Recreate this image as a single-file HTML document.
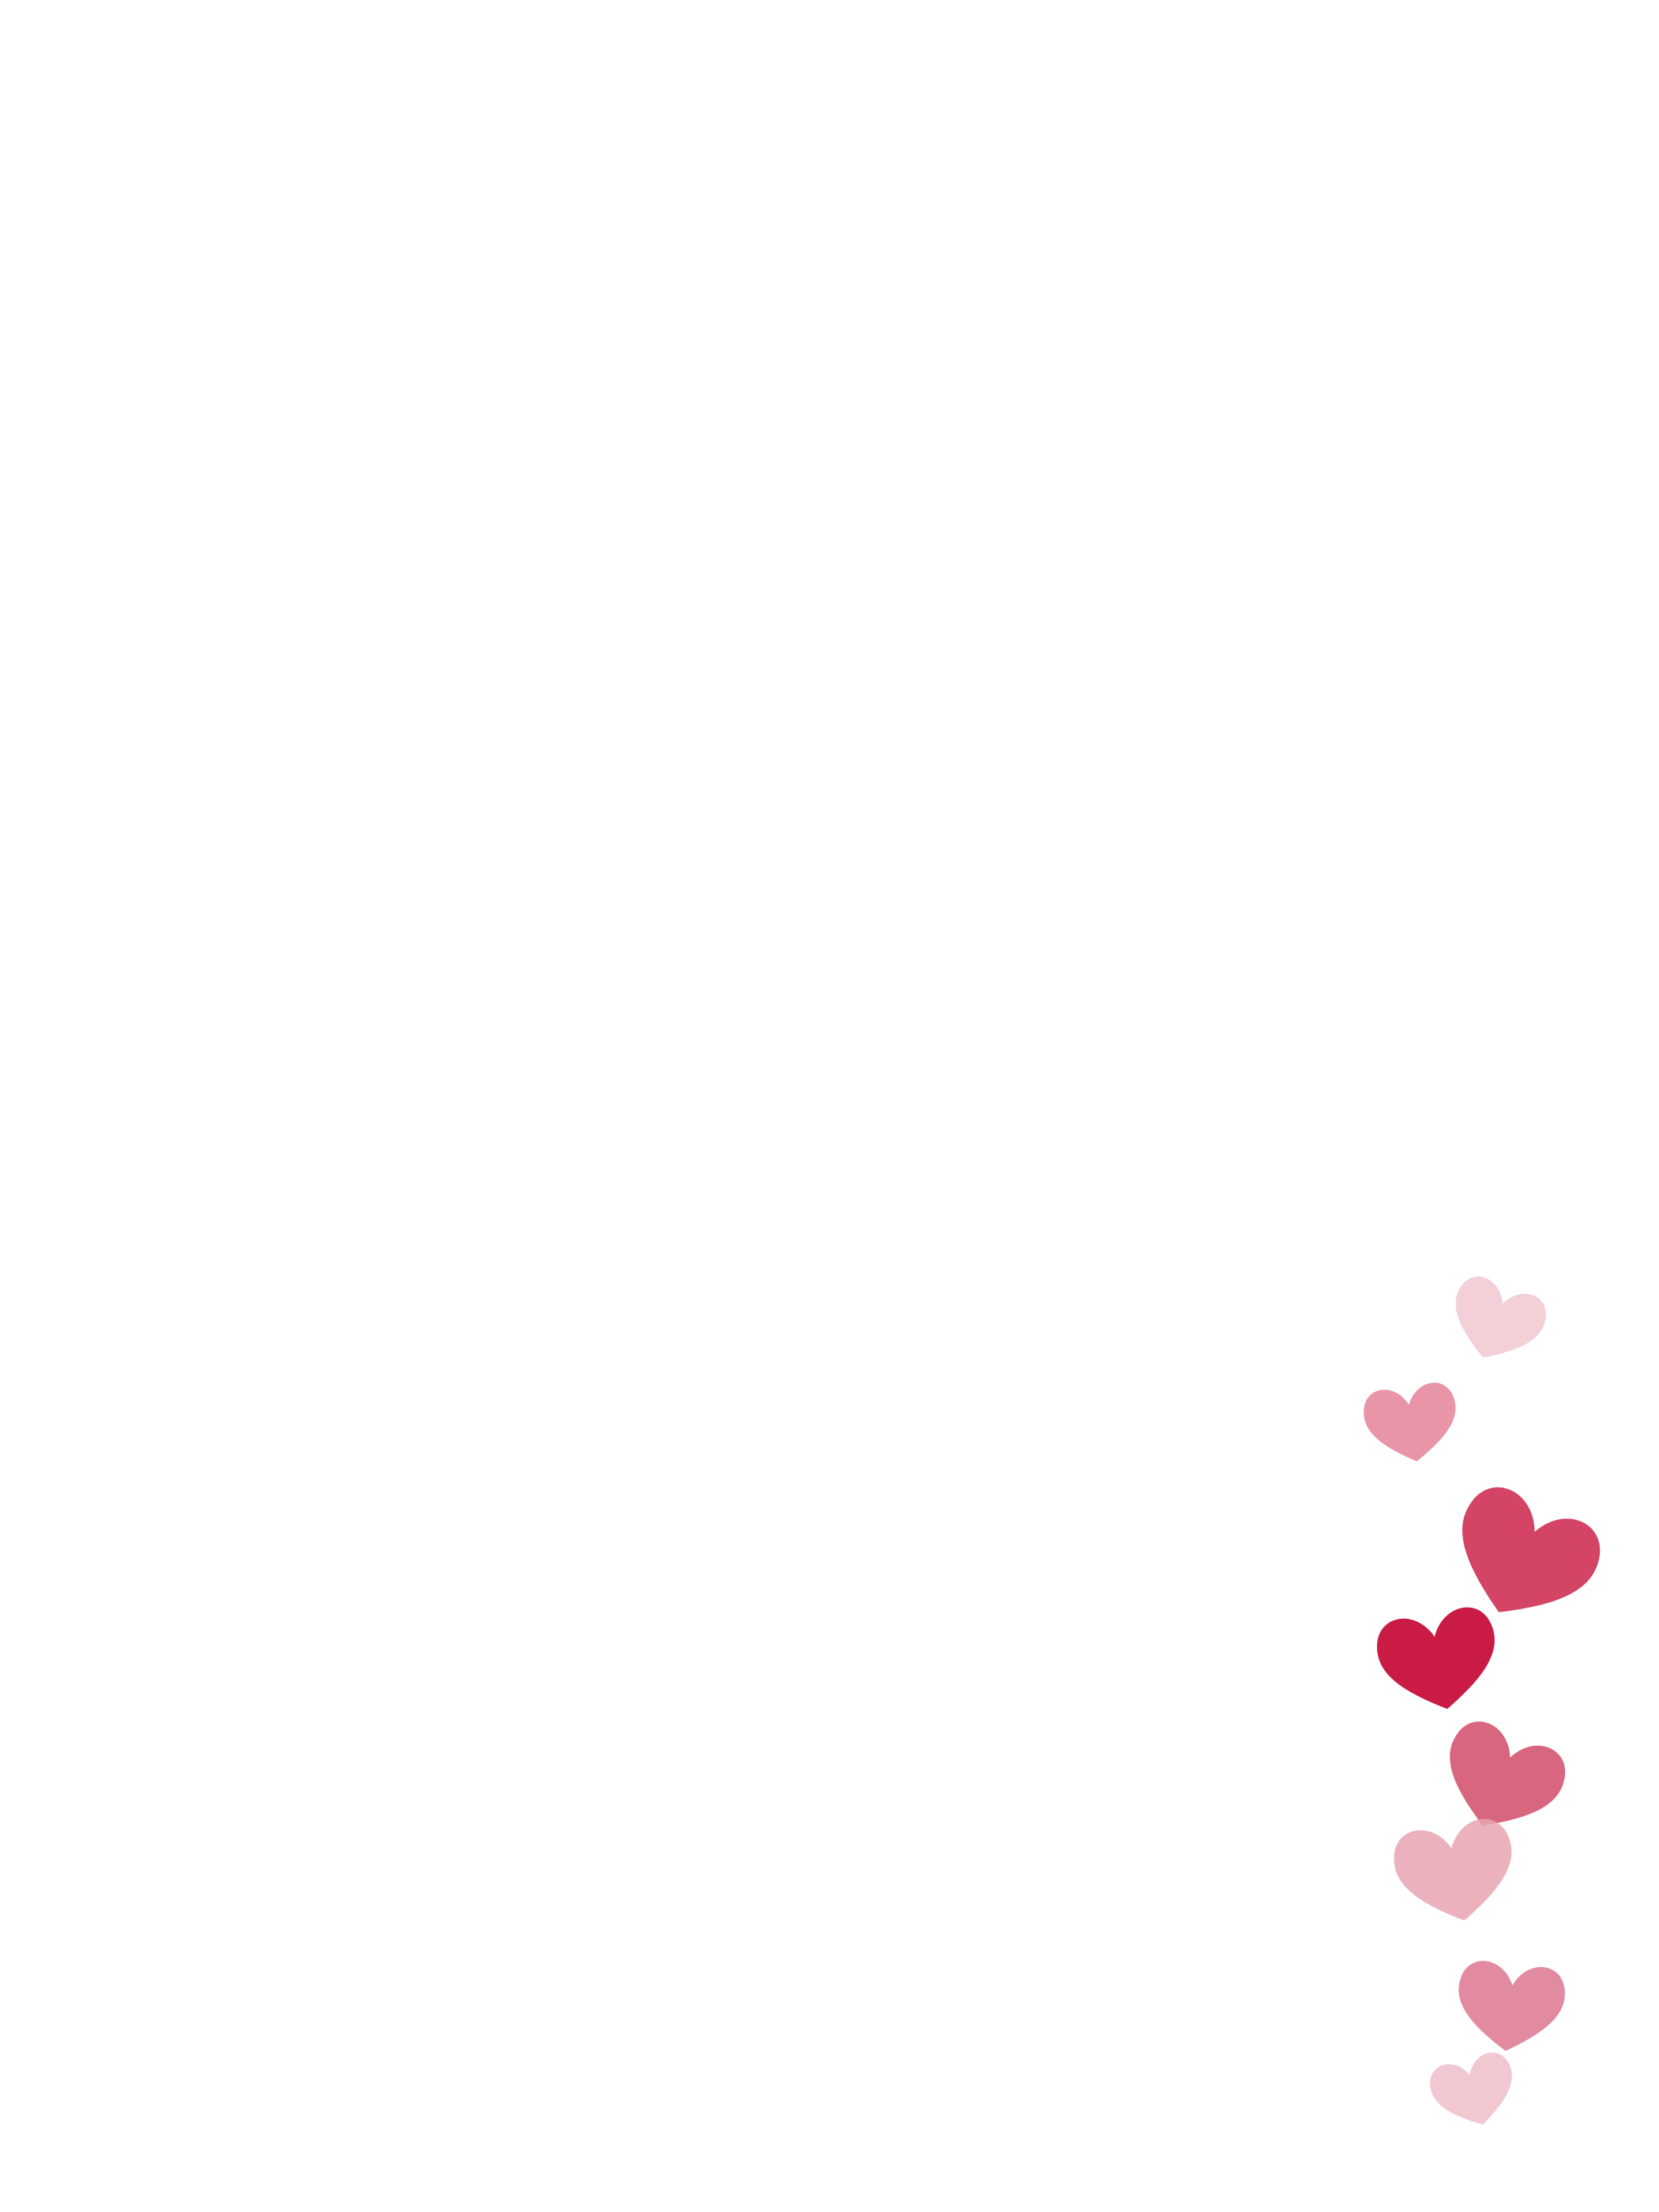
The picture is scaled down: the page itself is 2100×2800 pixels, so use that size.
<!DOCTYPE html>
<html><head><meta charset="utf-8"><style>
html,body{margin:0;padding:0;background:#fff;width:2100px;height:2800px;overflow:hidden}
svg{display:block}
</style></head><body>
<svg width="2100" height="2800" viewBox="0 0 1176 1568" xmlns="http://www.w3.org/2000/svg">
<defs>
<path id="h" d="M0,40 C-30,22 -46,6 -41,-14 C-36,-34 -10,-34 0,-12 C10,-34 36,-34 41,-14 C46,6 30,22 0,40 Z"/>
</defs>
<rect width="1176" height="1568" fill="#fff"/>
<use href="#h" fill="#f3d0d8" transform="translate(1062,933) rotate(20) scale(0.78)"/>
<use href="#h" fill="#e795a7" transform="translate(1000,1005) rotate(-8) scale(0.78)"/>
<use href="#h" fill="#d44465" transform="translate(1082,1099) rotate(24) scale(1.2)"/>
<use href="#h" fill="#c91b44" transform="translate(1019,1172) rotate(-10) scale(1.0)"/>
<use href="#h" fill="#d75e78" fill-opacity="0.95" transform="translate(1066,1257) rotate(22) scale(1.0)"/>
<use href="#h" fill="#e7a5b3" fill-opacity="0.85" transform="translate(1031,1322) rotate(-10) scale(1.0)"/>
<use href="#h" fill="#e28aa0" transform="translate(1071,1418) rotate(6) scale(0.9)"/>
<use href="#h" fill="#f0c5d0" fill-opacity="0.95" transform="translate(1044,1479) rotate(-15) scale(0.7)"/>
</svg>
</body></html>
